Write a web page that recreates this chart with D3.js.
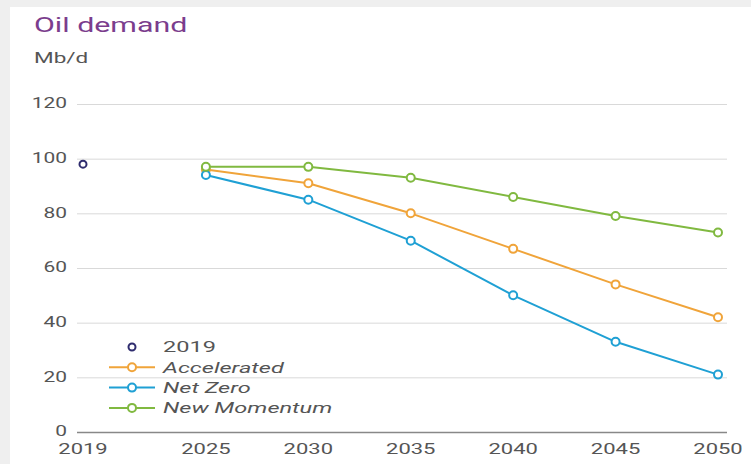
<!DOCTYPE html>
<html><head><meta charset="utf-8">
<script src="https://cdn.jsdelivr.net/npm/d3@7"></script>
<style>
html,body{margin:0;padding:0;background:#efefef;}
svg{display:block;}
</style></head>
<body>
<svg id="c" width="751" height="464"></svg>
<script>
const years = [2025, 2030, 2035, 2040, 2045, 2050];
const accelerated = [96, 91, 80, 67, 54, 42];
const netZero = [94, 85, 70, 50, 33, 21];
const newMomentum = [97, 97, 93, 86, 79, 73];
const base2019 = [98];
const xTicks = [2019, 2025, 2030, 2035, 2040, 2045, 2050];
const yTicks = [0, 20, 40, 60, 80, 100, 120];

const series = [
  {name: "Accelerated", values: accelerated, color: "#f0a43a"},
  {name: "Net Zero", values: netZero, color: "#1fa0d4"},
  {name: "New Momentum", values: newMomentum, color: "#80b940"}
];

const svg = d3.select("#c");
const font = "Roboto, 'Open Sans', sans-serif";
const SX = 1.45;

function txt(g, x, y, s, opts) {
  return g.append("text")
    .attr("transform", `translate(${x},${y}) scale(${opts.sx || SX},1)`)
    .attr("font-family", font).attr("font-size", opts.size)
    .attr("fill", opts.fill || "#555")
    .attr("text-anchor", opts.anchor || "start")
    .attr("dy", opts.dy || 0)
    .attr("font-style", opts.italic ? "italic" : "normal")
    .text(s);
}

// card
svg.append("rect").attr("x", 10).attr("y", 7).attr("width", 741).attr("height", 457).attr("fill", "#fff");

const x = d3.scaleLinear().domain([2019, 2050]).range([83, 718]);
const y = d3.scaleLinear().domain([0, 120]).range([432, 104]);

txt(svg, 34, 32, "Oil demand", {size: 20.5, fill: "#7b3d8d", sx: 1.48});
txt(svg, 34, 63, "Mb/d", {size: 15, sx: 1.5});

// gridlines
const gy = svg.append("g").attr("transform", "translate(77,0)")
  .call(d3.axisLeft(y).tickValues(yTicks).tickSize(-650).tickFormat(""));
gy.select(".domain").remove();
gy.selectAll(".tick line").attr("stroke", "#d9d9d9").attr("stroke-width", 1);
gy.selectAll(".tick").filter(d => d === 0).select("line").attr("stroke", "#888").attr("stroke-width", 1.6);

// y labels
yTicks.forEach(v => txt(svg, 67, y(v) - 1, String(v), {size: 15.5, anchor: "end", dy: "0.35em", sx: 1.35}));
// x labels
xTicks.forEach(v => txt(svg, x(v), 454, String(v), {size: 15.5, anchor: "middle", sx: 1.42}));

const line = d3.line().x((d, i) => x(years[i])).y(d => y(d));

series.forEach(s => {
  svg.append("path").datum(s.values).attr("d", line)
    .attr("fill", "none").attr("stroke", s.color).attr("stroke-width", 2)
    .attr("stroke-linejoin", "round");
});
series.forEach(s => {
  svg.selectAll(null).data(s.values).enter().append("circle")
    .attr("cx", (d, i) => x(years[i])).attr("cy", d => y(d)).attr("r", 4)
    .attr("fill", "#fff").attr("stroke", s.color).attr("stroke-width", 2);
});
svg.selectAll(null).data(base2019).enter().append("circle")
  .attr("cx", x(2019)).attr("cy", d => y(d)).attr("r", 3.5)
  .attr("fill", "#fff").attr("stroke", "#2f2c6e").attr("stroke-width", 2);

// legend
const lg = svg.append("g");
const items = [{name: "2019", color: "#2f2c6e", dot: true}].concat(series);
items.forEach((it, i) => {
  const yy = 347 + i * 20.3;
  if (!it.dot) {
    lg.append("line").attr("x1", 109).attr("x2", 155).attr("y1", yy).attr("y2", yy)
      .attr("stroke", it.color).attr("stroke-width", 2);
    lg.append("circle").attr("cx", 132).attr("cy", yy).attr("r", 4)
      .attr("fill", "#fff").attr("stroke", it.color).attr("stroke-width", 2);
  } else {
    lg.append("circle").attr("cx", 132).attr("cy", yy).attr("r", 3.5)
      .attr("fill", "#fff").attr("stroke", it.color).attr("stroke-width", 2);
  }
  txt(lg, 163, yy, it.name, {size: 15.5, dy: "0.35em", italic: !it.dot, sx: 1.52});
});
</script>
</body></html>
